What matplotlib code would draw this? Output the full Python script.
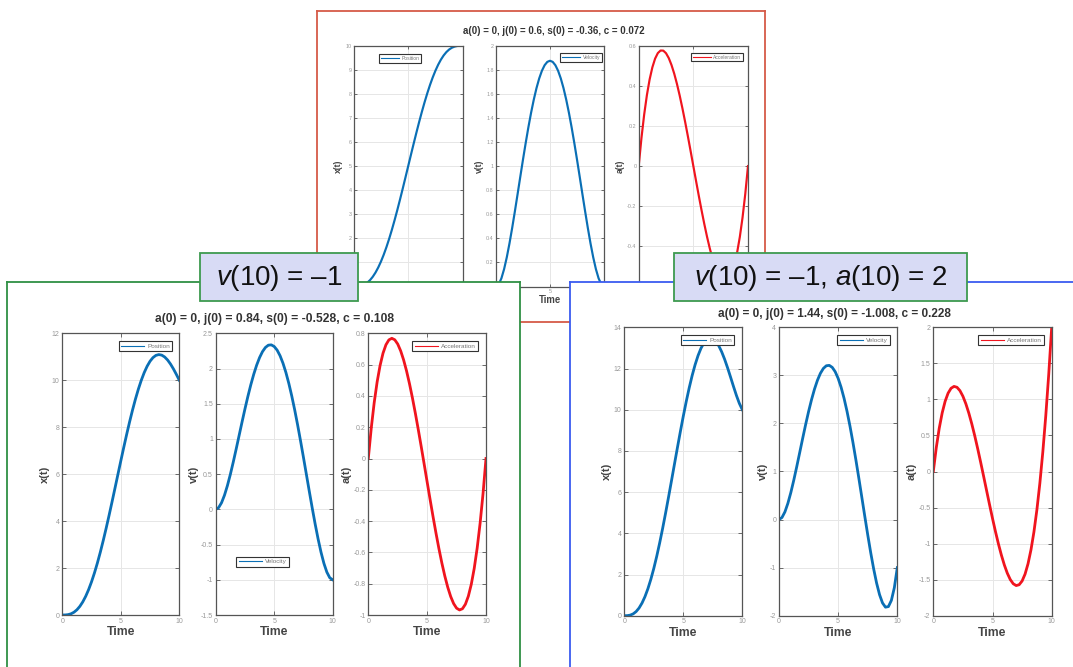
import matplotlib
matplotlib.use('Agg')
import matplotlib.pyplot as plt
from matplotlib.lines import Line2D
from matplotlib.patches import Rectangle

W, H = 1073, 667

plt.rcParams['font.family'] = ['Liberation Sans', 'DejaVu Sans']
plt.rcParams['mathtext.fontset'] = 'custom'
plt.rcParams['mathtext.rm'] = 'Liberation Sans'
plt.rcParams['mathtext.it'] = 'Liberation Sans:italic'
plt.rcParams['axes.unicode_minus'] = False

# --- sampled trajectories, t = 0 .. 10 in steps of 0.25 ---
t = [0, 0.25, 0.5, 0.75, 1, 1.25, 1.5, 1.75, 2, 2.25, 2.5, 2.75, 3, 3.25, 3.5, 3.75, 4, 4.25,
     4.5, 4.75, 5, 5.25, 5.5, 5.75, 6, 6.25, 6.5, 6.75, 7, 7.25, 7.5, 7.75, 8, 8.25, 8.5, 8.75,
     9, 9.25, 9.5, 9.75, 10]

# top figure: x(10)=10, v(10)=0, a(10)=0
pos_a = [0, 0.0015, 0.0116, 0.0376, 0.0856, 0.1605, 0.2661, 0.4051, 0.5792, 0.7892, 1.0352,
         1.3162, 1.6308, 1.9769, 2.3517, 2.7521, 3.1744, 3.6147, 4.0687, 4.5320, 5.0, 5.4680,
         5.9313, 6.3853, 6.8256, 7.2479, 7.6483, 8.0231, 8.3692, 8.6838, 8.9648, 9.2108,
         9.4208, 9.5949, 9.7339, 9.8395, 9.9144, 9.9624, 9.9884, 9.9985, 10.0]
vel_a = [0, 0.0178, 0.0677, 0.1444, 0.243, 0.3589, 0.4877, 0.6253, 0.768, 0.9122, 1.0547,
         1.1925, 1.323, 1.4438, 1.5527, 1.6479, 1.728, 1.7916, 1.8377, 1.8656, 1.875, 1.8656,
         1.8377, 1.7916, 1.728, 1.6479, 1.5527, 1.4438, 1.323, 1.1925, 1.0547, 0.9122, 0.768,
         0.6253, 0.4877, 0.3589, 0.243, 0.1444, 0.0677, 0.0178, 0]
acc_a = [0, 0.1389, 0.2565, 0.3538, 0.432, 0.4922, 0.5355, 0.5631, 0.576, 0.5754, 0.5625,
         0.5383, 0.504, 0.4607, 0.4095, 0.3516, 0.288, 0.2199, 0.1485, 0.0748, 0, -0.0748,
         -0.1485, -0.2199, -0.288, -0.3516, -0.4095, -0.4607, -0.504, -0.5383, -0.5625,
         -0.5754, -0.576, -0.5631, -0.5355, -0.4922, -0.432, -0.3538, -0.2565, -0.1389, 0]

# bottom left: v(10) = -1
pos_b = [0, 0.0021, 0.0162, 0.0523, 0.1189, 0.2225, 0.3680, 0.5587, 0.7968, 1.0828, 1.4160,
         1.7949, 2.2167, 2.6778, 3.1738, 3.6996, 4.2496, 4.8175, 5.3969, 5.9809, 6.5625,
         7.1348, 7.6907, 8.2234, 8.7264, 9.1934, 9.6187, 9.9972, 10.3243, 10.5964, 10.8106,
         10.9649, 11.0592, 11.0934, 11.0696, 10.9909, 10.8621, 10.6896, 10.4814, 10.2476, 10.0]
vel_b = [0, 0.0249, 0.0943, 0.2006, 0.3365, 0.4954, 0.6708, 0.8568, 1.048, 1.2392, 1.4258,
         1.6035, 1.7685, 1.9174, 2.0473, 2.1555, 2.24, 2.2990, 2.3313, 2.3359, 2.3125, 2.2610,
         2.1818, 2.0757, 1.944, 1.7883, 1.6108, 1.4139, 1.2005, 0.9741, 0.7383, 0.4974, 0.256,
         0.0191, -0.2077, -0.4187, -0.6075, -0.7674, -0.8912, -0.9714, -1.0]
acc_b = [0, 0.1938, 0.3563, 0.4891, 0.594, 0.6727, 0.7268, 0.7580, 0.768, 0.7585, 0.7313,
         0.6878, 0.63, 0.5594, 0.4778, 0.3867, 0.288, 0.1833, 0.0743, -0.0374, -0.15, -0.2618,
         -0.3713, -0.4765, -0.576, -0.6680, -0.7508, -0.8227, -0.882, -0.9271, -0.9563,
         -0.9678, -0.96, -0.9312, -0.8798, -0.8039, -0.702, -0.5723, -0.4133, -0.2230, 0]

# bottom right: v(10) = -1, a(10) = 2
pos_c = [0, 0.0036, 0.0274, 0.0884, 0.1999, 0.3720, 0.6118, 0.9235, 1.3088, 1.7669, 2.2949,
         2.8880, 3.5397, 4.2419, 4.9853, 5.7596, 6.5536, 7.3556, 8.1534, 8.9348, 9.6875,
         10.3996, 11.0598, 11.6573, 12.1824, 12.6266, 12.9829, 13.2457, 13.4113, 13.4783,
         13.4473, 13.3216, 13.1072, 12.8131, 12.4514, 12.0377, 11.5911, 11.1348, 10.6958,
         10.3055, 10.0]
vel_c = [0, 0.0424, 0.1596, 0.3371, 0.5615, 0.8201, 1.1011, 1.3937, 1.688, 1.9749, 2.2461,
         2.4944, 2.7135, 2.8978, 3.0426, 3.1443, 3.2, 3.2078, 3.1666, 3.0763, 2.9375, 2.7519,
         2.5221, 2.2514, 1.944, 1.6052, 1.2411, 0.8586, 0.4655, 0.0706, -0.3164, -0.6851,
         -1.024, -1.3208, -1.5624, -1.7346, -1.8225, -1.8102, -1.6809, -1.4170, -1.0]
acc_c = [0, 0.3291, 0.5988, 0.8125, 0.974, 1.0867, 1.1543, 1.1802, 1.168, 1.1213, 1.0438,
         0.9388, 0.81, 0.6610, 0.4953, 0.3164, 0.128, -0.0664, -0.2633, -0.4590, -0.65,
         -0.8328, -1.0038, -1.1593, -1.296, -1.4102, -1.4983, -1.5567, -1.582, -1.5705,
         -1.5188, -1.4231, -1.28, -1.0859, -0.8373, -0.5305, -0.162, 0.2717, 0.7743, 1.3492, 2.0]

titles = ['a(0) = 0, j(0) = 0.6, s(0) = -0.36, c = 0.072',
          'a(0) = 0, j(0) = 0.84, s(0) = -0.528, c = 0.108',
          'a(0) = 0, j(0) = 1.44, s(0) = -1.008, c = 0.228']
box_labels = [r'$\mathit{v}$(10) = –1', r'$\mathit{v}$(10) = –1, $\mathit{a}$(10) = 2']

ylabels = ['x(t)', 'v(t)', 'a(t)']
legend_names = ['Position', 'Velocity', 'Acceleration']

yticks_a = [[0, 1, 2, 3, 4, 5, 6, 7, 8, 9, 10],
            [0, 0.2, 0.4, 0.6, 0.8, 1, 1.2, 1.4, 1.6, 1.8, 2],
            [-0.6, -0.4, -0.2, 0, 0.2, 0.4, 0.6]]
yticks_b = [[0, 2, 4, 6, 8, 10, 12],
            [-1.5, -1, -0.5, 0, 0.5, 1, 1.5, 2, 2.5],
            [-1, -0.8, -0.6, -0.4, -0.2, 0, 0.2, 0.4, 0.6, 0.8]]
yticks_c = [[0, 2, 4, 6, 8, 10, 12, 14],
            [-2, -1, 0, 1, 2, 3, 4],
            [-2, -1.5, -1, -0.5, 0, 0.5, 1, 1.5, 2]]

BLUE = '#0a6fb5'
RED = '#f0141e'


def frac(x0, y0, x1, y1):
    return [x0 / W, 1 - y1 / H, (x1 - x0) / W, (y1 - y0) / H]


def panel_bg(fig, box, color, z):
    ax = fig.add_axes(frac(*box), zorder=z)
    ax.set_xticks([])
    ax.set_yticks([])
    ax.set_facecolor('white')
    for s in ax.spines.values():
        s.set_color(color)
        s.set_linewidth(1.3)
    return ax


def subplot(fig, box, z, y, color, yticks, ylabel, name, anchor, sc,
            xlabels=('0', '5', '10'), show_xlabel=True):
    ax = fig.add_axes(frac(*box), zorder=z)
    ax.plot(t, y, color=color, lw=2.0 * sc, solid_joinstyle='round')
    ax.set_xlim(0, 10)
    ax.set_ylim(yticks[0], yticks[-1])
    ax.set_xticks([0, 5, 10])
    ax.set_xticklabels(list(xlabels))
    ax.set_yticks(yticks)
    ax.set_yticklabels([f'{v:g}' for v in yticks])
    ax.tick_params(direction='in', length=3 * sc, width=0.6, top=True, right=True,
                   labelsize=5 * sc, colors='#555555', labelcolor='#999999', pad=2 * sc)
    ax.grid(True, color='#e6e6e6', lw=0.7)
    for s in ax.spines.values():
        s.set_color('#555555')
        s.set_linewidth(0.9)
    if show_xlabel:
        ax.set_xlabel('Time', fontsize=8.8 * sc, fontweight='bold', color='#444444', labelpad=1)
    ax.set_ylabel(ylabel, fontsize=8 * sc, fontweight='bold', color='#444444', labelpad=1.5)
    handle = Line2D([], [], color=color, lw=0.8)
    leg = ax.legend([handle], [name], loc='upper right', bbox_to_anchor=anchor,
                    borderaxespad=0, fontsize=4.6 * sc, frameon=True, fancybox=False,
                    edgecolor='#333333', framealpha=1, handlelength=3.6,
                    handletextpad=0.5, borderpad=0.35, labelcolor='#777777')
    leg.get_frame().set_linewidth(0.8)
    return ax


fig = plt.figure(figsize=(W / 100, H / 100), dpi=100)

# top figure (partly hidden behind the two lower ones)
panel_bg(fig, (317, 10.7, 765, 321.7), '#d65a48', 0)
boxes_a = [(353.7, 45.7, 462.7, 286.5), (496, 45.7, 604, 286.5), (638.7, 45.7, 748, 286.5)]
anchors_a = [(0.62, 0.965), (0.98, 0.968), (0.955, 0.97)]
for i, y in enumerate([pos_a, vel_a, acc_a]):
    # only the middle "Time" and its "5" tick peek out between the lower panels
    subplot(fig, boxes_a[i], 1, y, RED if i == 2 else BLUE, yticks_a[i], ylabels[i],
            legend_names[i], anchors_a[i], 0.78,
            xlabels=('', '5', '') if i == 1 else ('', '', ''), show_xlabel=(i == 1))

# bottom left
panel_bg(fig, (7.3, 282.3, 519.5, 700), '#2f9044', 2)
boxes_b = [(62.3, 333.3, 179.3, 615), (215.7, 333.3, 332.7, 615), (368.3, 333.3, 486, 615)]
anchors_b = [(0.94, 0.972), (0.626, 0.207), (0.932, 0.972)]
for i, y in enumerate([pos_b, vel_b, acc_b]):
    subplot(fig, boxes_b[i], 3, y, RED if i == 2 else BLUE, yticks_b[i], ylabels[i],
            legend_names[i], anchors_b[i], 1.0)

# bottom right
panel_bg(fig, (569.5, 282.3, 1100, 700), '#3a5cf0', 2)
boxes_c = [(624.3, 327.3, 742.3, 615.7), (779, 327.3, 897.3, 615.7), (933.3, 327.3, 1051.7, 615.7)]
anchors_c = [(0.932, 0.973), (0.938, 0.973), (0.935, 0.973)]
for i, y in enumerate([pos_c, vel_c, acc_c]):
    subplot(fig, boxes_c[i], 3, y, RED if i == 2 else BLUE, yticks_c[i], ylabels[i],
            legend_names[i], anchors_c[i], 1.0)

# overlay: titles and condition boxes
ov = fig.add_axes([0, 0, 1, 1], zorder=5)
ov.set_xlim(0, W)
ov.set_ylim(H, 0)
ov.axis('off')

ov.text(554, 30.7, titles[0], ha='center', va='center', fontsize=7.0, fontweight='bold', color='#333333')
ov.text(275, 319, titles[1], ha='center', va='center', fontsize=8.7, fontweight='bold', color='#333333')
ov.text(834.7, 314, titles[2], ha='center', va='center', fontsize=8.5, fontweight='bold', color='#333333')

for (x0, y0, x1, y1), lab in zip([(200, 253.3, 357.7, 300.7), (674.3, 253.3, 967.3, 300.7)], box_labels):
    ov.add_patch(Rectangle((x0, y0), x1 - x0, y1 - y0, facecolor='#d8dbf5',
                           edgecolor='#3d9a4f', lw=1.3))
    ov.text((x0 + x1) / 2, (y0 + y1) / 2 + 1, lab, ha='center', va='center',
            fontsize=20, color='#111111')

fig.savefig('out.png', dpi=100, facecolor='white')
